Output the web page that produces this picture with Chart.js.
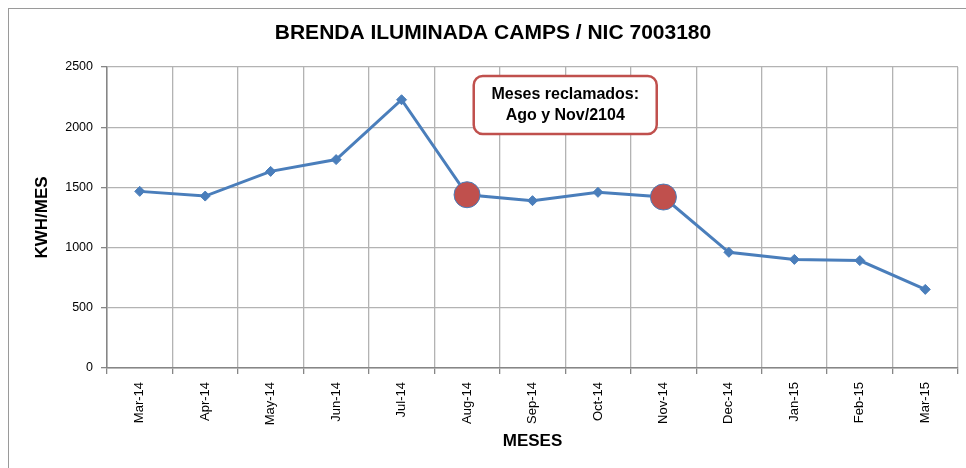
<!DOCTYPE html>
<html>
<head>
<meta charset="utf-8">
<script src="https://cdn.jsdelivr.net/npm/chart.js@4.4.1/dist/chart.umd.min.js"></script>
<style>
  html, body { margin: 0; padding: 0; background: #fff; }
  #wrap { width: 966px; height: 468px; }
</style>
</head>
<body>
<div id="wrap"><canvas id="kwh"></canvas></div>
<script>
// months shown on the x axis
let meses = ["Mar-14", "Apr-14", "May-14", "Jun-14", "Jul-14", "Aug-14", "Sep-14",
             "Oct-14", "Nov-14", "Dec-14", "Jan-15", "Feb-15", "Mar-15"]
// consumption (KWH/MES)
let consumo = [1467, 1428, 1633, 1731, 2228, 1439, 1390, 1459, 1420, 961, 902, 892, 653]
// months marked as claimed (red circles)
let reclamados = ["Aug-14", "Nov-14"]
let titulo = "BRENDA ILUMINADA CAMPS / NIC 7003180"
let notaLineas = ["Meses reclamados:", "Ago y Nov/2104"]
let yTicks = [0, 500, 1000, 1500, 2000, 2500]

let azul = "#4a7ebb"
let rojo = "#c0504d"
let fuente = "'Liberation Sans', Arial, sans-serif"

let esReclamo = ctx => reclamados.includes(meses[ctx.dataIndex])

// outer frame, title and note box
let extras = {
    id: "extras",
    beforeDraw(chart) {
        let c = chart.ctx
        c.save()
        c.fillStyle = "#fff"
        c.fillRect(0, 0, chart.width, chart.height)
        c.strokeStyle = "#9a9a9a"
        c.lineWidth = 1
        c.strokeRect(8.5, 8.5, chart.width + 20, chart.height + 20)
        c.fillStyle = "#000"
        c.font = "bold 21px " + fuente
        c.textAlign = "center"
        c.textBaseline = "middle"
        c.fillText(titulo, 493, 33)
        c.restore()
    },
    afterDatasetsDraw(chart) {
        let c = chart.ctx
        let x = chart.scales.x, y = chart.scales.y
        let ia = meses.indexOf(reclamados[0]), ib = meses.indexOf(reclamados[1])
        let cx = (x.getPixelForValue(ia) + x.getPixelForValue(ib)) / 2
        let cy = y.getPixelForValue(2185)
        let w = 183, h = 58, r = 9
        c.save()
        c.beginPath()
        c.roundRect(cx - w / 2, cy - h / 2, w, h, r)
        c.fillStyle = "#fff"
        c.fill()
        c.lineWidth = 2.5
        c.strokeStyle = rojo
        c.stroke()
        c.fillStyle = "#000"
        c.font = "bold 16px " + fuente
        c.textAlign = "center"
        c.textBaseline = "middle"
        c.fillText(notaLineas[0], cx, cy - 10)
        c.fillText(notaLineas[1], cx, cy + 11)
        c.restore()
    }
}

let chart = new Chart(document.getElementById("kwh").getContext("2d"), {
    type: "line",
    data: {
        labels: meses,
        datasets: [{
            label: "KWH/MES",
            data: consumo,
            borderColor: azul,
            borderWidth: 3,
            tension: 0,
            pointStyle: ctx => esReclamo(ctx) ? "circle" : "rectRot",
            pointRadius: ctx => esReclamo(ctx) ? 13 : 5,
            pointHoverRadius: ctx => esReclamo(ctx) ? 13 : 5,
            pointBackgroundColor: ctx => esReclamo(ctx) ? rojo : azul,
            pointBorderColor: azul,
            pointBorderWidth: 1
        }]
    },
    options: {
        responsive: true,
        maintainAspectRatio: false,
        animation: false,
        layout: { padding: { left: 0, right: 8, top: 67, bottom: 0 } },
        plugins: {
            legend: { display: false },
            tooltip: { enabled: false },
            title: { display: false }
        },
        scales: {
            x: {
                offset: true,
                grid: { offset: true, color: "#b3b3b3", lineWidth: 1.3, tickLength: 6, tickColor: "#868686" },
                border: { color: "#868686", width: 1.5 },
                ticks: {
                    color: "#000",
                    minRotation: 90,
                    maxRotation: 90,
                    padding: 8,
                    font: { family: fuente, size: 13 }
                },
                title: {
                    display: true,
                    text: "MESES",
                    color: "#000",
                    font: { family: fuente, size: 17, weight: "bold" },
                    padding: { top: 6, bottom: 16 }
                },
                afterFit(scale) { scale.height = 100 }
            },
            y: {
                min: 0,
                max: 2500,
                afterBuildTicks(scale) { scale.ticks = yTicks.map(v => ({ value: v })) },
                grid: { color: "#b3b3b3", lineWidth: 1.3, tickLength: 6, tickColor: "#868686" },
                border: { color: "#868686", width: 1.5 },
                ticks: {
                    color: "#000",
                    padding: 8,
                    font: { family: fuente, size: 12.5 },
                    callback: v => String(v)
                },
                title: {
                    display: true,
                    text: "KWH/MES",
                    color: "#000",
                    font: { family: fuente, size: 17, weight: "bold" },
                    padding: { top: 32, bottom: 0 }
                },
                afterFit(scale) { scale.width = 107 }
            }
        }
    },
    plugins: [extras]
});
</script>
</body>
</html>
